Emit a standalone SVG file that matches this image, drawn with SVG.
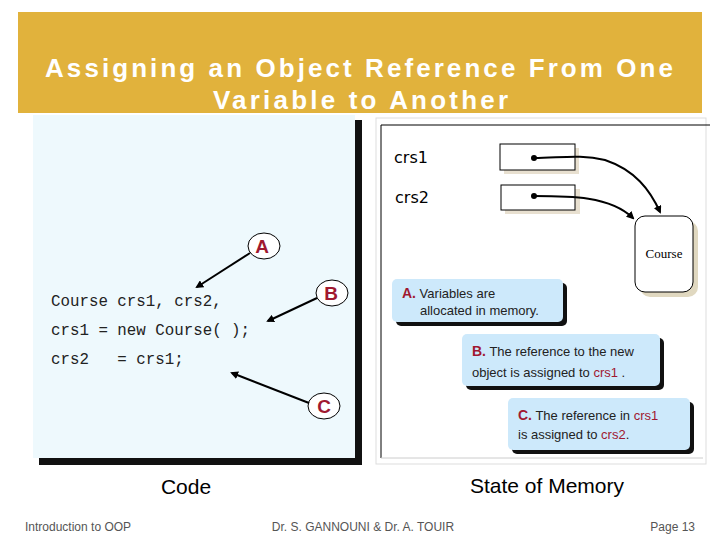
<svg xmlns="http://www.w3.org/2000/svg" width="720" height="540" viewBox="0 0 720 540">
<defs>
<marker id="ah" markerWidth="8" markerHeight="8" refX="6" refY="4" orient="auto" markerUnits="userSpaceOnUse"><path d="M0,0 L8,4 L0,8 z" fill="#000"/></marker>
</defs>
<style>
.code{font-family:"Liberation Mono",monospace;font-size:15.8px;fill:#222}
.lab{font-family:"Liberation Sans",Arial,sans-serif;font-size:19px;font-weight:bold;fill:#a01830}
.cal{font-family:"Liberation Sans",Arial,sans-serif;font-size:13px;fill:#222}
.red{fill:#a01830}
.bold{font-weight:bold}
.foot{font-family:"Liberation Sans",Arial,sans-serif;font-size:12px;fill:#555}
.cap{font-family:"Liberation Sans",Arial,sans-serif;font-size:21px;fill:#000}
.conn{stroke:#000;stroke-width:2;fill:none}
.callout{fill:#cde9fb}
.shadow{fill:#111}
</style>
<rect width="720" height="540" fill="#fff"/>
<g id="title">
<rect x="18" y="12" width="684" height="101" fill="#e1b23c"/>
<text x="45" y="77" textLength="628" lengthAdjust="spacing" font-family="Liberation Sans,Arial,sans-serif" font-size="26" font-weight="bold" fill="#fff">Assigning an Object Reference From One</text>
<text x="213" y="109" textLength="295" lengthAdjust="spacing" font-family="Liberation Sans,Arial,sans-serif" font-size="26" font-weight="bold" fill="#fff">Variable to Another</text>
</g>
<g id="code-panel">
<rect x="39" y="120" width="323" height="345" class="shadow"/>
<rect x="33" y="115" width="322" height="343" fill="#eef9fd"/>
<text x="51" y="306" class="code" xml:space="preserve">Course crs1, crs2,</text>
<text x="51" y="335" class="code" xml:space="preserve">crs1 = new Course( );</text>
<text x="51" y="364" class="code" xml:space="preserve">crs2   = crs1;</text>
</g>
<g id="memory-panel">
<rect x="376" y="118" width="330" height="346" fill="#fff" stroke="#ddd"/>
<path d="M381,458 L381,125 L710,125" fill="none" stroke="#000" stroke-width="1"/>
<line x1="381" y1="458" x2="703" y2="458" stroke="#ccc"/>
<text x="394" y="163" font-family="DejaVu Sans,sans-serif" font-size="16" fill="#000">crs1</text>
<text x="395" y="203" font-family="DejaVu Sans,sans-serif" font-size="16" fill="#000">crs2</text>
</g>
<g id="var-crs1"><rect x="504" y="148" width="75" height="26" fill="#e8e0d0"/><rect x="500" y="144" width="75" height="26" fill="#fff" stroke="#000"/><circle cx="534" cy="158" r="3"/></g>
<g id="var-crs2"><rect x="505" y="189" width="75" height="25" fill="#e8e0d0"/><rect x="501" y="185" width="74" height="25" fill="#fff" stroke="#000"/><circle cx="534" cy="196" r="3"/></g>
<g id="course-obj"><rect x="640" y="221" width="58" height="76" rx="10" fill="#e0d8c0"/><rect x="635" y="216" width="58" height="76" rx="10" fill="#fff" stroke="#000"/><text x="664" y="258" text-anchor="middle" font-family="Liberation Serif,serif" font-size="13">Course</text></g>
<g id="callout-a"><rect x="396" y="283" width="171" height="43" rx="5" class="shadow"/><rect x="392" y="279" width="171" height="43" rx="5" class="callout"/>
<text x="402" y="298" class="cal"><tspan class="red bold" font-size="14">A.</tspan> Variables are</text><text x="420" y="315" class="cal">allocated in memory.</text></g>
<g id="callout-b"><rect x="466" y="338" width="198" height="52" rx="5" class="shadow"/><rect x="462" y="334" width="198" height="52" rx="5" class="callout"/>
<text x="472" y="356" class="cal"><tspan class="red bold" font-size="14">B.</tspan> The reference to the new</text><text x="472" y="377" class="cal">object is assigned to <tspan class="red">crs1</tspan> .</text></g>
<g id="callout-c"><rect x="512" y="402" width="182" height="52" rx="5" class="shadow"/><rect x="508" y="398" width="182" height="52" rx="5" class="callout"/>
<text x="518" y="420" class="cal"><tspan class="red bold" font-size="14">C.</tspan> The reference in <tspan class="red">crs1</tspan></text><text x="518" y="439" class="cal">is assigned to <tspan class="red">crs2</tspan>.</text></g>
<g id="label-a"><ellipse cx="264" cy="246" rx="16" ry="13" fill="#fff" stroke="#000"/><text x="262" y="253" text-anchor="middle" class="lab">A</text></g>
<g id="label-b"><ellipse cx="332" cy="293" rx="16" ry="13" fill="#fff" stroke="#000"/><text x="331" y="300" text-anchor="middle" class="lab">B</text></g>
<g id="label-c"><ellipse cx="324" cy="406" rx="16" ry="13" fill="#fff" stroke="#000"/><text x="324" y="413" text-anchor="middle" class="lab">C</text></g>
<g id="connectors">
<line x1="250" y1="253" x2="197" y2="287" class="conn" stroke-width="2.5" marker-end="url(#ah)"/>
<line x1="317" y1="298" x2="268" y2="321" class="conn" stroke-width="2.5" marker-end="url(#ah)"/>
<line x1="309" y1="403" x2="232" y2="373" class="conn" stroke-width="2.5" marker-end="url(#ah)"/>
<path d="M534,158 C560,158 580,154 605,160 C635,170 650,190 660,212" class="conn" stroke-width="1.5" marker-end="url(#ah)"/>
<path d="M534,196 C570,196 610,196 633,218" class="conn" stroke-width="1.5" marker-end="url(#ah)"/>
</g>
<g id="footer">
<text x="186" y="494" text-anchor="middle" class="cap">Code</text>
<text x="547" y="493" text-anchor="middle" class="cap">State of Memory</text>
<text x="25" y="531" class="foot">Introduction to OOP</text>
<text x="363" y="531" text-anchor="middle" class="foot">Dr. S. GANNOUNI &amp; Dr.  A. TOUIR</text>
<text x="695" y="531" text-anchor="end" class="foot">Page 13</text>
</g>
</svg>
